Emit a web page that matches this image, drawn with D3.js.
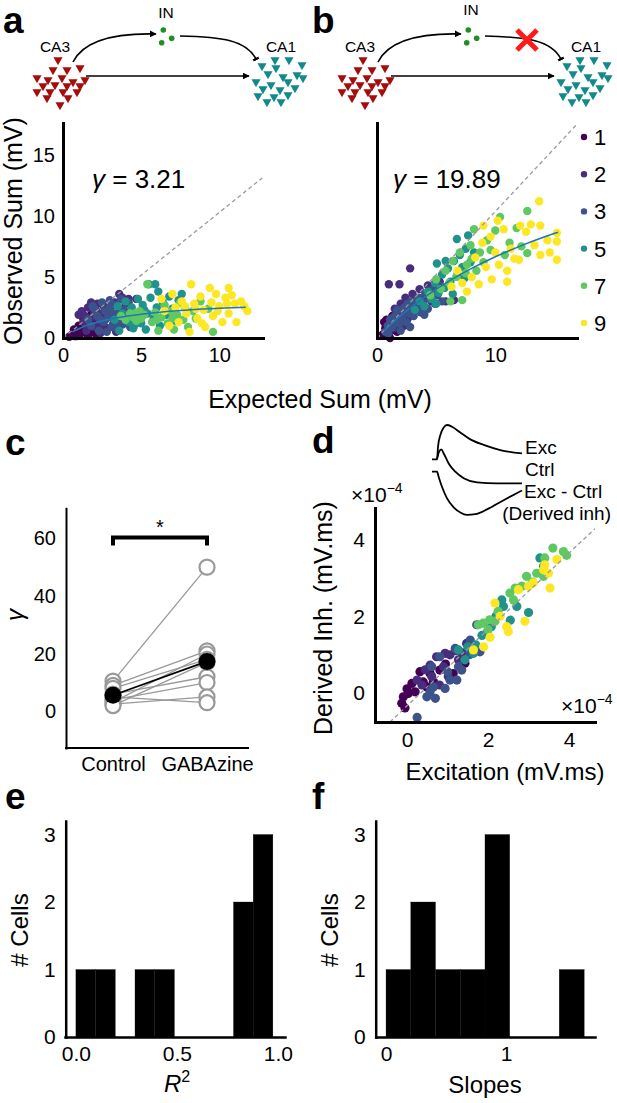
<!DOCTYPE html>
<html><head><meta charset="utf-8">
<script src="https://cdn.jsdelivr.net/npm/d3@7"></script>
<style>body{margin:0;background:#fff}svg{display:block}</style>
</head><body>
<script>
// ---------------- DATA ----------------
const groupLabels = ["1","2","3","5","7","9"];
const groupN = [1,2,3,5,7,9];

// Panel a: expected vs observed sum (control)
const aG1 = [[0.4,0.1],[0.6,0.3],[0.8,0.15],[0.9,0.5],[1.1,0.3],[1.2,0.8],[1.3,1.6],[1.4,0.5],[1.5,1.2],[1.6,0.2],[1.7,0.9],[1.8,1.9],[1.9,0.6],[2.0,1.4],[2.1,0.3],[2.2,1.0],[2.4,1.7],[2.5,0.7],[1.0,1.0],[0.7,0.7]];
const aG2 = [[1.0,1.9],[1.2,2.2],[1.3,1.3],[1.5,0.6],[1.6,2.5],[1.8,2.9],[1.9,1.7],[2.0,0.9],[2.1,2.3],[2.2,2.8],[2.3,1.2],[2.4,0.4],[2.5,2.0],[2.6,2.6],[2.7,1.5],[2.8,0.8],[2.9,2.3],[3.0,1.9],[3.1,2.6],[3.2,1.1],[3.3,2.9],[3.4,0.5],[3.5,1.6],[3.6,2.4],[3.8,3.3],[3.9,1.2],[4.0,2.8],[1.4,1.8],[2.0,2.0],[2.6,1.0],[3.6,3.6],[4.2,3.2],[4.7,3.2]];
const aG3 = [[1.6,1.5],[1.8,1.0],[2.0,2.4],[2.2,1.8],[2.3,0.6],[2.5,2.9],[2.6,1.3],[2.7,2.2],[2.8,0.5],[2.9,1.7],[3.0,3.1],[3.1,0.9],[3.2,2.0],[3.3,1.4],[3.4,2.7],[3.5,0.7],[3.6,1.9],[3.7,3.2],[3.8,1.1],[3.9,2.3],[4.0,1.6],[4.2,2.9],[4.3,0.9],[4.4,2.1],[2.4,1.5],[3.0,2.5],[3.5,1.2],[1.9,2.6]];
const aG5 = [[3.3,1.5],[3.5,2.6],[3.6,0.6],[3.8,2.0],[4.0,3.0],[4.2,1.3],[4.4,2.5],[4.5,0.8],[4.7,1.9],[4.8,3.2],[5.0,1.2],[5.1,2.7],[5.3,0.7],[5.4,2.0],[5.5,4.4],[5.6,3.3],[5.8,1.6],[5.9,4.4],[6.0,2.5],[6.1,3.8],[6.2,1.0],[6.4,2.9],[6.6,1.9],[6.8,3.4],[7.0,2.4],[7.2,1.4],[7.4,3.1],[7.6,3.6],[4.6,1.1],[5.2,2.3]];
const aG7 = [[3.7,1.8],[4.0,1.5],[4.3,2.0],[4.5,1.7],[4.7,1.4],[4.9,2.2],[5.0,1.6],[5.2,1.9],[5.4,4.4],[5.7,1.3],[5.9,2.1],[6.1,0.6],[6.3,1.7],[6.5,2.7],[6.7,1.2],[6.9,2.2],[7.1,0.7],[7.3,1.9],[7.5,2.9],[7.7,1.5],[7.8,2.5],[8.0,0.9],[8.3,2.2],[8.5,1.6],[8.8,3.0],[9.3,2.4],[9.6,0.5],[6.0,1.5],[7.0,1.6],[4.6,2.0]];
const aG9 = [[6.3,3.2],[6.5,2.2],[6.8,1.0],[7.0,3.6],[7.2,2.5],[7.4,1.3],[7.6,3.0],[7.9,2.0],[8.1,0.5],[8.2,4.4],[8.4,2.8],[8.6,1.6],[8.8,3.4],[9.0,2.3],[9.1,0.9],[9.4,4.1],[9.5,2.9],[9.6,1.8],[9.8,3.6],[10.0,2.6],[10.2,1.3],[10.4,3.3],[10.6,4.1],[10.8,3.5],[11.0,2.8],[11.1,1.3],[11.4,3.0],[11.6,2.6],[11.8,2.2],[8.5,2.4],[9.9,2.2],[10.5,2.8],[7.8,2.6],[8.9,1.2],[10.6,2.0]];

// Panel b: expected vs observed sum (GABAzine)
const bG1 = [[0.5,0.3],[0.7,0.8],[0.8,1.5],[0.9,0.2],[1.0,1.1],[1.2,0.6],[1.3,1.8],[1.5,1.2],[1.7,0.5],[1.8,1.7],[2.0,1.0],[2.2,1.9],[2.4,1.4],[1.1,0.0],[0.6,1.3]];
const bG2 = [[1.0,4.4],[1.9,4.4],[2.8,5.7],[5.8,3.0],[6.5,3.1],[1.2,1.6],[1.5,2.4],[1.7,1.3],[2.0,2.8],[2.2,2.0],[2.4,3.3],[2.6,1.6],[2.8,2.6],[3.0,3.6],[3.2,2.2],[3.4,3.0],[3.6,4.0],[3.8,2.6],[4.0,3.4],[4.3,4.3],[4.6,3.0],[5.0,3.8],[5.3,4.6],[2.3,1.0],[1.4,0.8]];
const bG3 = [[0.7,0.5],[0.96,0.38],[0.9,1.0],[1.1,1.5],[1.3,0.9],[1.5,1.8],[1.7,2.3],[1.9,1.2],[2.1,1.7],[2.3,2.5],[2.5,1.3],[2.7,2.0],[2.9,3.0],[3.1,1.8],[3.3,2.6],[3.5,3.3],[3.7,2.1],[3.9,2.9],[4.1,3.6],[4.3,2.4],[4.5,3.2],[4.7,4.0],[4.9,2.8],[5.1,3.5],[5.3,4.3],[5.5,3.0],[2.0,0.6],[2.8,0.9],[4.0,1.9],[1.6,1.2],[2.6,2.8]];
const bG5 = [[3.2,2.3],[3.6,3.0],[4.0,2.6],[4.3,3.8],[4.6,3.2],[4.9,4.5],[5.2,3.7],[5.5,5.2],[5.7,4.1],[6.0,5.7],[6.2,4.6],[6.5,6.3],[6.75,8.1],[6.8,5.2],[7.0,6.8],[7.2,5.8],[7.5,7.3],[7.7,8.4],[7.9,6.2],[8.2,7.0],[5.0,2.8],[6.4,3.6],[7.4,4.9],[5.8,6.3],[5.06,6.1]];
const bG7 = [[4.5,3.5],[5.0,4.8],[5.4,4.0],[5.8,5.5],[6.1,4.5],[6.4,6.3],[6.7,5.0],[7.0,7.0],[7.2,3.1],[7.6,6.0],[7.9,7.6],[8.2,8.9],[8.4,5.5],[8.7,7.0],[9.0,6.2],[9.3,8.0],[9.6,7.2],[10.0,8.8],[10.4,9.9],[10.8,6.8],[11.2,7.8],[11.8,9.0],[12.2,7.5],[12.7,10.4],[12.7,6.95],[7.5,5.3],[6.2,3.0],[8.0,6.5]];
const bG9 = [[6.3,4.2],[6.8,5.5],[7.2,4.5],[7.6,3.8],[8.0,5.0],[8.3,6.6],[8.6,4.4],[8.9,7.8],[9.2,5.8],[9.6,8.3],[9.7,4.8],[10.0,7.0],[10.3,6.0],[10.7,8.9],[11.0,4.6],[11.0,5.5],[11.3,7.3],[11.6,6.5],[12.0,6.4],[12.1,9.2],[12.6,8.7],[13.0,9.3],[13.3,7.6],[13.7,11.2],[13.8,9.2],[13.8,6.8],[14.4,8.0],[14.6,7.0],[15.2,8.6],[15.2,7.9],[15.2,6.4],[9.0,9.2],[10.2,9.6]];

// fitted saturation curves
const fitA = [[0.6,0.5],[1.5,1.02],[2.5,1.4],[3.5,1.67],[5,1.95],[6.5,2.15],[8,2.29],[10,2.43],[11.7,2.52]];
const fitB = [[0.6,0.58],[2,1.83],[4,3.33],[6,4.61],[8,5.7],[10,6.65],[12,7.48],[14,8.22],[15.3,8.65]];
const diagA = [[0,0],[12.75,13.1]];
const diagB = [[0,0],[16.8,17.4]];
const gammaA = "3.21", gammaB = "19.89";
const ticksAx = [0,5,10], ticksAy = [0,5,10,15], ticksBx = [0,10];

// Panel c: gamma per cell
const condLabels = ["Control","GABAzine"];
const ctrlGamma = [10.5,9,3.21,8,6,4,2.5,5,2];
const gabaGamma = [50,21,19.89,18,12,10,5,3,17];
const ticksC = [0,20,40,60];

// Panel d: excitation vs derived inhibition (x1e-4)
const dG1 = [[-0.13,-0.28],[-0.09,-0.11],[0.03,-0.02],[0.12,0.24],[0.32,0.55],[0.4,0.28],[0.57,0.5],[0.81,0.59],[1.14,0.5],[1.43,0.77],[0.2,0.02],[0.49,0.15],[0.0,0.1],[0.65,0.3],[0.95,0.75],[-0.05,-0.4]];
const dG2 = [[0.57,0.72],[0.73,0.94],[0.94,1.03],[1.06,0.99],[1.27,0.86],[0.25,0.33],[0.37,0.2],[0.61,0.42],[0.9,0.68],[1.02,0.42],[1.47,1.29],[1.2,1.1],[0.45,0.6],[1.35,1.05],[0.8,0.2]];
const dG3 = [[0.25,-0.65],[0.49,-0.11],[0.57,0.02],[0.65,0.15],[0.94,0.11],[1.06,0.33],[1.23,0.33],[1.27,0.68],[1.72,1.78],[1.56,1.38],[1.8,1.07],[1.35,0.59],[0.81,0.94],[0.61,0.68],[1.19,1.16],[0.7,-0.15],[1.0,0.55],[1.55,1.0],[2.2,2.0]];
const dG5 = [[1.43,0.86],[1.27,1.12],[1.64,1.03],[1.97,1.56],[2.08,1.73],[2.21,2.0],[2.34,2.43],[2.38,2.26],[2.71,2.26],[3.0,2.1],[3.28,3.53],[3.37,3.31],[1.7,1.25],[1.5,1.2],[2.55,1.9],[1.85,1.5]];
const dG7 = [[1.76,1.78],[1.88,1.82],[2.04,1.91],[2.17,1.87],[2.25,2.13],[2.54,2.61],[2.67,2.74],[2.83,2.79],[2.95,3.05],[3.2,3.13],[3.37,3.05],[3.6,3.79],[3.86,3.7],[3.94,3.6],[3.4,3.53],[2.63,2.43],[2.0,1.65],[3.1,2.9]];
const dG9 = [[1.64,1.12],[1.89,1.2],[2.17,2.35],[2.46,1.73],[2.5,1.6],[2.91,1.87],[2.75,2.7],[3.0,2.79],[3.12,2.88],[3.37,3.22],[3.49,3.13],[3.53,2.74],[3.4,3.35],[3.7,3.49],[2.3,2.0],[2.05,1.45]];
const diagD = [[-0.42,-0.77],[4.64,4.3]];
const ticksD = [0,2,4];

// inset traces (time 0-100, normalized amplitude)
const traceExc  = [[0,0],[5.6,0],[6.7,0.37],[9.3,0.71],[13,0.93],[16.7,1.0],[22.2,0.95],[31.5,0.78],[42.6,0.58],[57.4,0.42],[75.9,0.27],[100,0.17]];
const traceCtrl = [[5.6,0],[7.8,0.22],[10.4,0.29],[13,0.17],[18.5,-0.12],[25.9,-0.36],[35.2,-0.55],[50,-0.67],[72.2,-0.7],[100,-0.7]];
const traceDiff = [[0,0],[5.6,0],[7.4,-0.15],[11.1,-0.44],[16.7,-0.78],[24.1,-1.04],[31.5,-1.19],[38.9,-1.26],[48.1,-1.24],[61.1,-1.1],[79.6,-0.83],[100,-0.55]];

// Panels e, f: histograms
const r2Edges  = [0,0.0975,0.195,0.2925,0.39,0.4875,0.585,0.6825,0.78,0.8775,0.975];
const r2Counts = [1,1,0,1,1,0,0,0,2,3];
const slopeEdges  = [0,0.206,0.412,0.618,0.824,1.03,1.236,1.442,1.65];
const slopeCounts = [1,2,1,1,3,0,0,1];
const ticksEx = [0,0.5,1], ticksFx = [0,1], ticksHy = [0,1,2,3];

// ---------------- DRAW ----------------
const FONT = '"Liberation Sans", Arial, Helvetica, sans-serif';
const color = n => d3.interpolateViridis((n-1)/8);
const intFmt = d3.format("d");
const svg = d3.select("body").append("svg").attr("width",617).attr("height",1103)
  .style("font-family",FONT);

function styleAxis(g, sw, fs){
  g.attr("font-family",FONT).attr("font-size",fs);
  g.select(".domain").attr("stroke","#000").attr("stroke-width",sw).attr("stroke-linecap","square");
  g.selectAll(".tick line").remove();
  g.selectAll(".tick text").attr("fill","#000");
}
function label(x,y,s,fs,opts={}){
  const t = svg.append("text").attr("x",x).attr("y",y).attr("font-size",fs).attr("fill","#000").text(s);
  if(opts.anchor) t.attr("text-anchor",opts.anchor);
  if(opts.bold) t.attr("font-weight","bold");
  if(opts.rot!==undefined) t.attr("transform",`rotate(${opts.rot},${x},${y})`);
  return t;
}

// panel letters
[["a",3,33],["b",312,33],["c",5,455],["d",312,453],["e",5,809],["f",312,809]]
  .forEach(([s,x,y])=>label(x,y,s,37,{bold:true}));

// ---- circuit diagrams ----
const ca3Pos = [[58,60],[53,70],[67,70],[80,68],[37,78],[48,80],[62,78],[73,82],[85,80],[43,86],[55,85],[67,86],[80,86],[37,92],[50,92],[63,92],[77,92],[47,98],[68,98],[60,105]];
const ca1Pos = [[275,60],[289,60],[262,66],[276,68],[302,65],[268,74],[283,77],[297,75],[256,82],[271,85],[288,82],[303,78],[263,89],[280,90],[295,88],[258,96],[274,97],[288,95],[267,102],[281,102]];
const inPos = [[163.3,30],[161.7,42.7],[171.7,38.3]];
const defs = svg.append("defs");
defs.append("marker").attr("id","arr").attr("viewBox","0 0 10 10").attr("refX",9).attr("refY",5)
  .attr("markerWidth",7).attr("markerHeight",7).attr("markerUnits","userSpaceOnUse").attr("orient","auto")
  .append("path").attr("d","M0,0L10,5L0,10z").attr("fill","#000");
defs.append("marker").attr("id","bar").attr("viewBox","0 0 4 10").attr("refX",2).attr("refY",5)
  .attr("markerWidth",2.5).attr("markerHeight",9).attr("markerUnits","userSpaceOnUse").attr("orient","auto")
  .append("rect").attr("width",4).attr("height",10).attr("fill","#000");

function circuit(dx, dy, blocked, labY){
  const g = svg.append("g").attr("transform",`translate(${dx},${dy})`);
  const tri = d3.symbol(d3.symbolTriangle, 36);
  g.selectAll(".ca3").data(ca3Pos).join("path").attr("d",tri)
    .attr("transform",d=>`translate(${d[0]},${d[1]}) rotate(180)`).attr("fill","#a50d0d");
  g.selectAll(".ca1").data(ca1Pos).join("path").attr("d",tri)
    .attr("transform",d=>`translate(${d[0]},${d[1]}) rotate(180)`).attr("fill","#128a8a");
  g.selectAll(".in").data(inPos).join("circle").attr("cx",d=>d[0]).attr("cy",d=>d[1]).attr("r",2.8).attr("fill","#1f8f1f");
  g.append("path").attr("d","M73,62 C84,40 115,33 156,34").attr("fill","none").attr("stroke","#000").attr("stroke-width",1.6).attr("marker-end","url(#arr)");
  g.append("path").attr("d","M180,36 C222,37 246,40 256,59").attr("fill","none").attr("stroke","#000").attr("stroke-width",1.6).attr("marker-end","url(#bar)");
  g.append("line").attr("x1",86).attr("y1",76).attr("x2",249).attr("y2",76).attr("stroke","#000").attr("stroke-width",1.6).attr("marker-end","url(#arr)");
  g.append("text").attr("x",55).attr("y",51.5).attr("text-anchor","middle").attr("font-size",15.5).text("CA3");
  g.append("text").attr("x",281).attr("y",52).attr("text-anchor","middle").attr("font-size",15.5).text("CA1");
  g.append("text").attr("x",166).attr("y",labY).attr("text-anchor","middle").attr("font-size",15.5).text("IN");
  if(blocked){
    const c=[222,40], h=10;
    g.append("path").attr("d",`M${c[0]-h},${c[1]-h}L${c[0]+h},${c[1]+h}M${c[0]+h},${c[1]-h}L${c[0]-h},${c[1]+h}`)
      .attr("stroke","#ff1a1a").attr("stroke-width",5);
  }
}
circuit(0,0,false,18);
circuit(305,0,true,15);

// ---- panels a & b ----
const yAB = d3.scaleLinear([0,17.6],[338,123]);
const xA = d3.scaleLinear([0,12.8],[63,263]);
const xB = d3.scaleLinear([0,16.9],[377,577]);
const groupsA = [aG1,aG2,aG3,aG5,aG7,aG9];
const groupsB = [bG1,bG2,bG3,bG5,bG7,bG9];

function scatter(groups, x, y, r){
  const g = svg.append("g");
  groups.forEach((pts,i)=>{
    g.selectAll(null).data(pts).join("circle").attr("cx",d=>x(d[0])).attr("cy",d=>y(d[1]))
      .attr("r",r).attr("fill",color(groupN[i]));
  });
  return g;
}
function dashed(diag,x,y){
  svg.append("line").attr("x1",x(diag[0][0])).attr("y1",y(diag[0][1])).attr("x2",x(diag[1][0])).attr("y2",y(diag[1][1]))
    .attr("stroke","#999").attr("stroke-width",1.3).attr("stroke-dasharray","4,3");
}
function fitLine(pts,x,y){
  svg.append("path").datum(pts).attr("d",d3.line().x(d=>x(d[0])).y(d=>y(d[1])).curve(d3.curveMonotoneX))
    .attr("fill","none").attr("stroke","#1f77b4").attr("stroke-width",1.6);
}
scatter(groupsA,xA,yAB,4.2); dashed(diagA,xA,yAB); fitLine(fitA,xA,yAB);
scatter(groupsB,xB,yAB,4.2); dashed(diagB,xB,yAB); fitLine(fitB,xB,yAB);

svg.append("g").attr("transform","translate(0,338)").call(d3.axisBottom(xA).tickValues(ticksAx).tickFormat(intFmt).tickSize(0).tickPadding(10).tickSizeOuter(0)).call(g=>styleAxis(g,3,20));
svg.append("g").attr("transform","translate(63,0)").call(d3.axisLeft(yAB).tickValues(ticksAy).tickFormat(intFmt).tickSize(0).tickPadding(8).tickSizeOuter(0)).call(g=>styleAxis(g,3,20));
svg.append("g").attr("transform","translate(0,338)").call(d3.axisBottom(xB).tickValues(ticksBx).tickFormat(intFmt).tickSize(0).tickPadding(10).tickSizeOuter(0)).call(g=>styleAxis(g,3,20));
svg.append("g").attr("transform","translate(377,0)").call(d3.axisLeft(yAB).tickValues([]).tickSize(0).tickSizeOuter(0)).call(g=>styleAxis(g,3,20));

function gammaLabel(x,y,val){
  const t = svg.append("text").attr("x",x).attr("y",y).attr("font-size",26).attr("fill","#000");
  t.append("tspan").attr("font-style","italic").text("γ");
  t.append("tspan").text(" = "+val);
}
gammaLabel(92,188,gammaA);
gammaLabel(393,188,gammaB);
label(22,231,"Observed Sum (mV)",25,{anchor:"middle",rot:-90});
label(320,408,"Expected Sum (mV)",25,{anchor:"middle"});

// legend
const legY = d3.scalePoint().domain(groupLabels).range([137,323]);
groupLabels.forEach((l,i)=>{
  svg.append("circle").attr("cx",584).attr("cy",legY(l)).attr("r",3.2).attr("fill",color(groupN[i]));
  label(594,legY(l)+8,l,22);
});

// ---- panel c ----
const xC = d3.scalePoint().domain(condLabels).range([113,207]);
const yC = d3.scaleLinear([-12.7,70.4],[748,508.3]);
const gC = svg.append("g");
ctrlGamma.forEach((c,i)=>{
  gC.append("line").attr("x1",xC("Control")).attr("y1",yC(c)).attr("x2",xC("GABAzine")).attr("y2",yC(gabaGamma[i]))
    .attr("stroke","#999").attr("stroke-width",1.3);
});
const pairs = [];
ctrlGamma.forEach((c,i)=>{pairs.push([condLabels[0],c]); pairs.push([condLabels[1],gabaGamma[i]]);});
gC.selectAll(".pt").data(pairs).join("circle").attr("cx",d=>xC(d[0])).attr("cy",d=>yC(d[1])).attr("r",7.5)
  .attr("fill","#fff").attr("stroke","#999").attr("stroke-width",2.2);
const means = [d3.mean(ctrlGamma), d3.mean(gabaGamma)];
gC.append("line").attr("x1",xC(condLabels[0])).attr("y1",yC(means[0])).attr("x2",xC(condLabels[1])).attr("y2",yC(means[1]))
  .attr("stroke","#000").attr("stroke-width",1.8);
gC.selectAll(".mn").data(means).join("circle").attr("cx",(d,i)=>xC(condLabels[i])).attr("cy",d=>yC(d)).attr("r",8.5).attr("fill","#000");
gC.append("path").attr("d",`M${xC(condLabels[0])},${yC(57.5)}V${yC(60.3)}H${xC(condLabels[1])}V${yC(57.5)}`)
  .attr("fill","none").attr("stroke","#000").attr("stroke-width",4);
label((xC(condLabels[0])+xC(condLabels[1]))/2,534,"*",20,{anchor:"middle"});
svg.append("g").attr("transform","translate(0,748)").call(d3.axisBottom(xC).tickSize(0).tickPadding(9).tickSizeOuter(0)).call(g=>styleAxis(g,2,20))
  .select(".domain").attr("d","M66,0H248");
svg.append("g").attr("transform","translate(66,0)").call(d3.axisLeft(yC).tickValues(ticksC).tickFormat(intFmt).tickSize(0).tickPadding(10).tickSizeOuter(0)).call(g=>styleAxis(g,2,20));
label(23,615,"γ",24,{anchor:"middle",rot:-90}).attr("font-style","italic");

// ---- panel d ----
const xD = d3.scaleLinear([-0.79,4.64],[375,595]);
const yD = d3.scaleLinear([-0.77,4.84],[722,508]);
scatter([dG1,dG2,dG3,dG5,dG7,dG9],xD,yD,4.6);
dashed(diagD,xD,yD);
svg.append("g").attr("transform","translate(0,722)").call(d3.axisBottom(xD).tickValues(ticksD).tickFormat(intFmt).tickSize(0).tickPadding(10).tickSizeOuter(0)).call(g=>styleAxis(g,3,21));
svg.append("g").attr("transform","translate(375,0)").call(d3.axisLeft(yD).tickValues(ticksD).tickFormat(intFmt).tickSize(0).tickPadding(10).tickSizeOuter(0)).call(g=>styleAxis(g,3,21));
function sci(x,y){
  const t = svg.append("text").attr("x",x).attr("y",y).attr("font-size",21).attr("fill","#000");
  t.append("tspan").text("×10");
  t.append("tspan").attr("dy",-9).attr("font-size",14).text("−4");
}
sci(351,502); sci(561,713);
label(332,618,"Derived Inh. (mV.ms)",25,{anchor:"middle",rot:-90});
label(505,780,"Excitation (mV.ms)",24,{anchor:"middle"});
// inset
const tX = d3.scaleLinear([0,100],[432,522]);
const amp = 34.3;
[[traceExc,459.3],[traceCtrl,459.3],[traceDiff,471.7]].forEach(([tr,base])=>{
  svg.append("path").datum(tr).attr("d",d3.line().x(d=>tX(d[0])).y(d=>base-d[1]*amp).curve(d3.curveMonotoneX))
    .attr("fill","none").attr("stroke","#000").attr("stroke-width",1.8);
});
label(525,454,"Exc",19); label(525,476,"Ctrl",19); label(524,498,"Exc - Ctrl",19);
label(611,520,"(Derived inh)",19,{anchor:"end"});

// ---- panels e, f ----
const yH = d3.scaleLinear([0,3.2],[1037,821]);
function hist(edges, counts, x){
  const bins = counts.map((c,i)=>({x0:edges[i],x1:edges[i+1],c}));
  svg.append("g").selectAll("rect").data(bins.filter(b=>b.c>0)).join("rect")
    .attr("x",d=>x(d.x0)).attr("width",d=>x(d.x1)-x(d.x0)).attr("y",d=>yH(d.c)).attr("height",d=>yH(0)-yH(d.c))
    .attr("fill","#000").attr("stroke","#111").attr("stroke-width",0.3);
}
const xE = d3.scaleLinear([-0.054,1.035],[65,285]);
const xF = d3.scaleLinear([-0.086,1.74],[375.7,595]);
hist(r2Edges,r2Counts,xE);
hist(slopeEdges,slopeCounts,xF);
svg.append("g").attr("transform","translate(0,1037)").call(d3.axisBottom(xE).tickValues(ticksEx).tickFormat(d3.format(".1f")).tickSize(0).tickPadding(9).tickSizeOuter(0)).call(g=>styleAxis(g,2.5,21));
svg.append("g").attr("transform","translate(65.7,0)").call(d3.axisLeft(yH).tickValues(ticksHy).tickFormat(intFmt).tickSize(0).tickPadding(10).tickSizeOuter(0)).call(g=>styleAxis(g,2.5,21));
svg.append("g").attr("transform","translate(0,1037)").call(d3.axisBottom(xF).tickValues(ticksFx).tickFormat(intFmt).tickSize(0).tickPadding(9).tickSizeOuter(0)).call(g=>styleAxis(g,2.5,21));
svg.append("g").attr("transform","translate(375.7,0)").call(d3.axisLeft(yH).tickValues(ticksHy).tickFormat(intFmt).tickSize(0).tickPadding(10).tickSizeOuter(0)).call(g=>styleAxis(g,2.5,21));
label(28,930,"# Cells",24,{anchor:"middle",rot:-90});
label(338,930,"# Cells",24,{anchor:"middle",rot:-90});
const r2 = svg.append("text").attr("x",177).attr("y",1092).attr("text-anchor","middle").attr("font-size",24);
r2.append("tspan").attr("font-style","italic").text("R");
r2.append("tspan").attr("dy",-10).attr("font-size",16).text("2");
label(485,1093,"Slopes",24,{anchor:"middle"});
</script>
</body></html>
